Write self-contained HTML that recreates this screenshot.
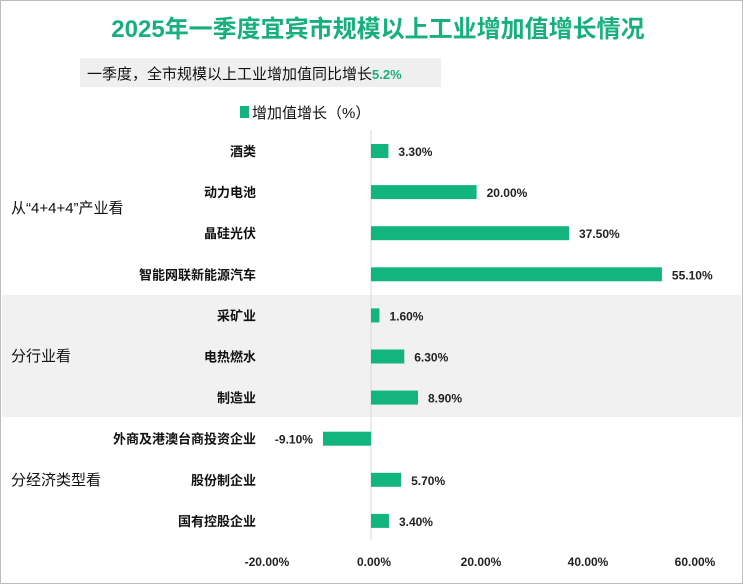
<!DOCTYPE html>
<html><head><meta charset="utf-8"><style>
body{margin:0;width:743px;height:584px;background:#fff;overflow:hidden;font-family:"Liberation Sans","Noto Sans CJK SC",sans-serif}
#frame{position:absolute;left:0;top:0;width:741px;height:582px;border:1px solid #bdbdbd}
</style></head><body>
<div id="frame"></div>
<svg width="743" height="584" style="position:absolute;left:0;top:0">
<rect x="2" y="295" width="739" height="122" fill="#f1f1f1"/>
<text x="378" y="37" text-anchor="middle" font-size="24" font-weight="bold" fill="#17b07d" font-family="Liberation Sans,Noto Sans CJK SC,sans-serif">2025年一季度宜宾市规模以上工业增加值增长情况</text>
<rect x="80" y="58" width="361" height="29" fill="#efefef"/>
<text x="87" y="79" font-size="15" fill="#111">一季度，全市规模以上工业增加值同比增长<tspan fill="#17b07d" font-weight="bold" font-size="13">5.2%</tspan></text>
<rect x="240" y="106" width="9" height="12" fill="#13b57f"/>
<text x="252" y="118" font-size="15" fill="#111">增加值增长（%）</text>
<g id="plot"></g>
</svg>
<script>
const categories=["酒类","动力电池","晶硅光伏","智能网联新能源汽车","采矿业","电热燃水","制造业","外商及港澳台商投资企业","股份制企业","国有控股企业"];
const values=[3.3,20.0,37.5,55.1,1.6,6.3,8.9,-9.1,5.7,3.4];
const ticks=[-20,0,20,40,60];
const groups=[["从“4+4+4”产业看",208],["分行业看",356],["分经济类型看",480]];
const ns="http://www.w3.org/2000/svg";
const g=document.getElementById('plot');
const x=v=>371+v*5.28;
const xt=v=>374+v*5.35;
const y=i=>151+i*41.1;
function mk(t,a,txt){const e=document.createElementNS(ns,t);for(const k in a)e.setAttribute(k,a[k]);if(txt!=null)e.textContent=txt;g.appendChild(e);return e;}
const ax=mk('line',{x1:371,x2:371,y1:130,y2:540,stroke:'#d9d9d9'});


ticks.forEach(t=>{const e=mk('text',{x:xt(t),y:566,'text-anchor':'middle','font-size':12,'font-weight':'bold',fill:'#222'},t.toFixed(2)+'%');

});
categories.forEach((c,i)=>{
const v=values[i];
const b=mk('rect',{x:Math.min(x(0),x(v)),y:y(i)-7,width:Math.abs(x(v)-x(0)),height:14,fill:'#13b57f'});


const l=mk('text',{x:256,y:y(i)+5,'text-anchor':'end','font-size':13,'font-weight':'bold',fill:'#111'},c);


const vl=mk('text',{x:v>=0?x(v)+10:x(v)-10,y:y(i)+5,'text-anchor':v>=0?'start':'end','font-size':12,'font-weight':'bold',fill:'#222'},v.toFixed(2)+'%');


});
groups.forEach(([t,yy])=>{const e=mk('text',{x:11,y:yy+5,'font-size':15,fill:'#111'},t);

});
</script>
</body></html>
